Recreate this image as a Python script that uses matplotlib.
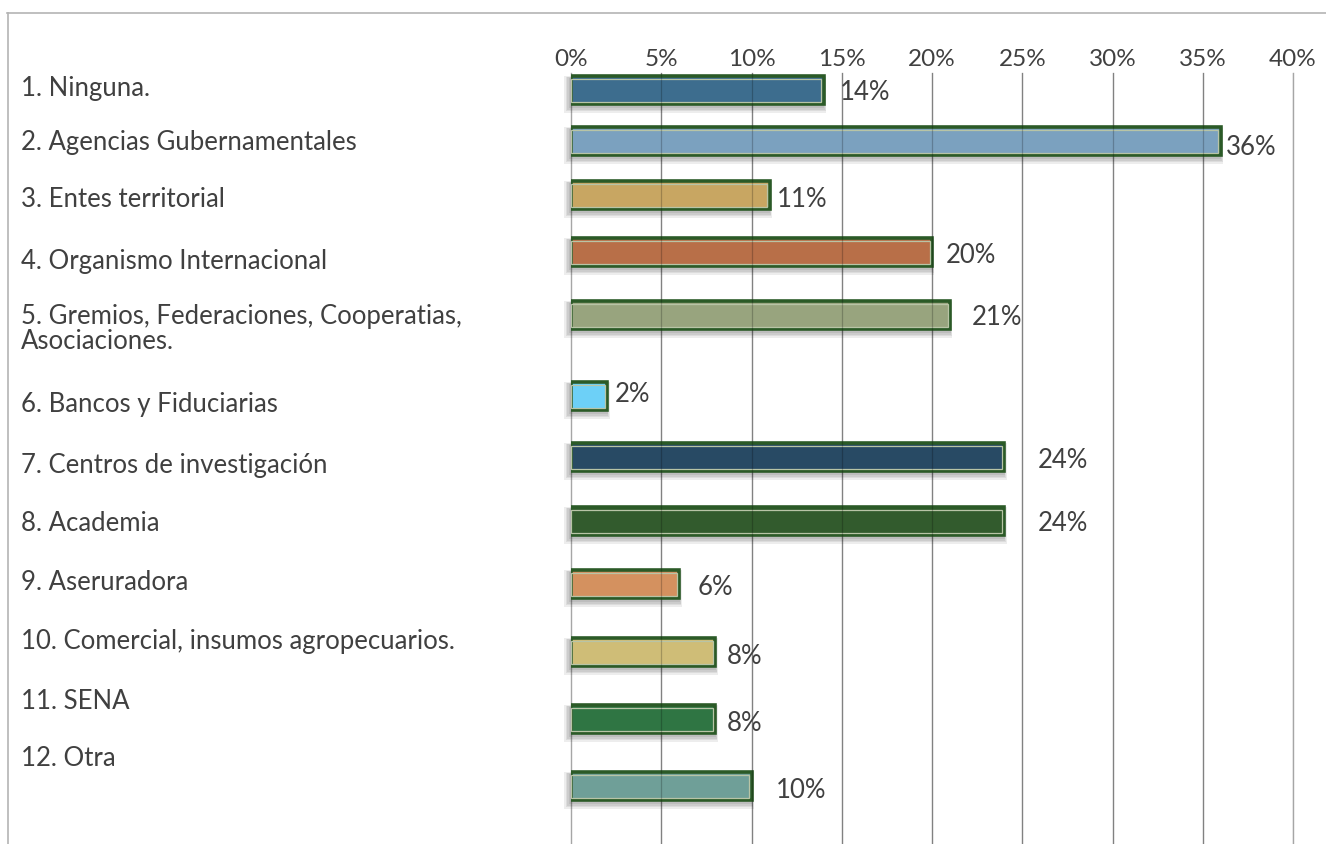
import matplotlib
matplotlib.use("Agg")
import matplotlib.pyplot as plt
from matplotlib.lines import Line2D

# ---- data ----
categories = [
    "1. Ninguna.",
    "2. Agencias Gubernamentales",
    "3. Entes territorial",
    "4. Organismo Internacional",
    "5. Gremios, Federaciones, Cooperatias,\nAsociaciones.",
    "6. Bancos y Fiduciarias",
    "7. Centros de investigación",
    "8. Academia",
    "9. Aseruradora",
    "10. Comercial, insumos agropecuarios.",
    "11. SENA",
    "12. Otra",
]
values = [14, 36, 11, 20, 21, 2, 24, 24, 6, 8, 8, 10]
tick_values = [0, 5, 10, 15, 20, 25, 30, 35, 40]
tick_labels = ["0%", "5%", "10%", "15%", "20%", "25%", "30%", "35%", "40%"]
bar_colors = [
    "#3d6d8e", "#7ba1bf", "#c8a662", "#b86f48", "#98a47e", "#6dd0f7",
    "#284a64", "#325b2d", "#d4915f", "#cfbd77", "#2f7543", "#6f9f98",
]

# ---- layout (pixels) ----
W, H = 1326, 844
GRID_TOP = 73                      # top of plotting area, px from top
X0, X40 = 571, 1293                # pixel positions of 0% and 40%
row_center = [90, 141, 195, 252, 315, 396, 457, 521, 584, 652, 719, 786]
cat_baseline = [96, 150, 207, 269, 324, 412, 473, 531, 590, 649, 709, 766]
LINE_GAP = 25
val_dx = [16, 5, 7, 14, 22, 8, 34, 34, 18, 11, 11, 24]
val_dy = [-10, -14, -12, -11, -10, -6, -11, -10, -11, -12, -12, -12]
BAR_H = 28
FONT = "Lato"
FS = 18.5
FS_TICK = 17.5
TXT = "#404040"
FRAME = "#2b5a27"
GRID = "#a6a6a6"

fig = plt.figure(figsize=(W / 100, H / 100), dpi=100)
fig.patch.set_facecolor("white")

ax = fig.add_axes([X0 / W, 0, (X40 - X0) / W, (H - GRID_TOP) / H])
ax.set_xlim(0, 40)
ax.set_ylim(H - GRID_TOP, 0)
for s in ax.spines.values():
    s.set_visible(False)
ax.set_yticks([])
ax.xaxis.tick_top()
ax.set_xticks(tick_values)
ax.set_xticklabels(tick_labels, fontsize=FS_TICK, color=TXT, family=FONT)
ax.tick_params(axis="x", length=0, pad=2)

# vertical grid lines behind the bars, and a faint copy over them
for t in tick_values:
    ax.axvline(t, color=GRID, linewidth=1.0, zorder=0, clip_on=False)
for t in tick_values[1:]:
    ax.axvline(t, color="#000000", alpha=0.22, linewidth=0.9, zorder=5)

ys = [c - GRID_TOP for c in row_center]
px_per_unit = (X40 - X0) / 40.0

# soft drop shadow: stacked translucent layers, growing in size, shifted down
for grow, shift in [(12, 4.5), (9, 4.0), (6, 3.5), (3, 3.0)]:
    g = grow / px_per_unit
    ax.barh([y + shift for y in ys], [v + g * 0.8 for v in values],
            left=-g * 0.6, height=BAR_H + grow * 0.7, color="k",
            alpha=0.07, linewidth=0, zorder=2, clip_on=False)

bars = ax.barh(ys, values, height=BAR_H, color=bar_colors,
               edgecolor=FRAME, linewidth=2.6, zorder=3)

# thin light bevel line just inside the dark frame
inset = 2.5 / px_per_unit
ax.barh(ys, [v - inset for v in values], left=0, height=BAR_H - 5,
        facecolor="none", edgecolor="#b8c4a6", linewidth=0.9, zorder=4)

for v, y, dx, dy in zip(values, ys, val_dx, val_dy):
    ax.annotate(f"{v}%", xy=(v, y), xytext=(dx, dy), textcoords="offset pixels",
                ha="left", va="baseline", fontsize=FS, color=TXT, family=FONT,
                zorder=6)

# category names, one text per line
for lab, base in zip(categories, cat_baseline):
    for i, line in enumerate(lab.split("\n")):
        fig.text(21 / W, 1 - (base + i * LINE_GAP) / H, line, ha="left",
                 va="baseline", fontsize=FS, color=TXT, family=FONT)

# outer frame (top and left edges)
fig.add_artist(Line2D([7 / W, 1], [1 - 13 / H, 1 - 13 / H],
                      transform=fig.transFigure, color="#b4b4b4", lw=1.2))
fig.add_artist(Line2D([8 / W, 8 / W], [0, 1 - 13 / H],
                      transform=fig.transFigure, color="#b4b4b4", lw=1.2))

fig.savefig("out.png", dpi=100)
